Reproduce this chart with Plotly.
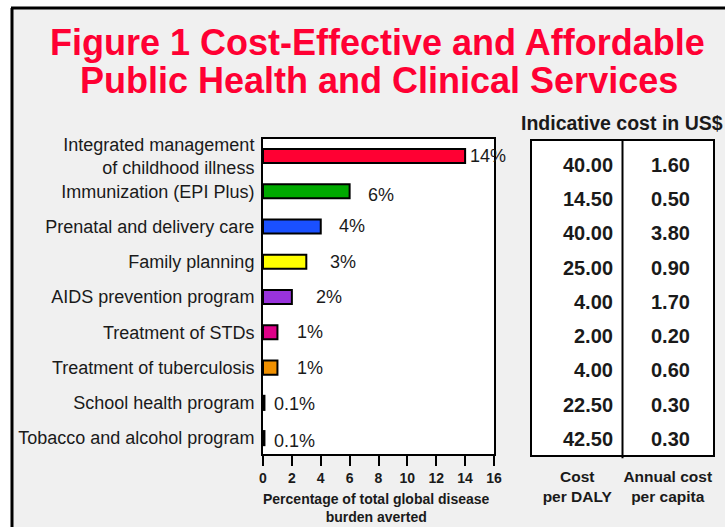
import plotly.graph_objects as go

W, H = 725, 527

# ---------------- data ----------------
programs = [
    "Integrated management<br>of childhood illness",
    "Immunization (EPI Plus)",
    "Prenatal and delivery care",
    "Family planning",
    "AIDS prevention program",
    "Treatment of STDs",
    "Treatment of tuberculosis",
    "School health program",
    "Tobacco and alcohol program",
]
burden_pct = [14, 6, 4, 3, 2, 1, 1, 0.1, 0.1]
burden_labels = ["14%", "6%", "4%", "3%", "2%", "1%", "1%", "0.1%", "0.1%"]
cost_per_daly = [40.00, 14.50, 40.00, 25.00, 4.00, 2.00, 4.00, 22.50, 42.50]
annual_cost_per_capita = [1.60, 0.50, 3.80, 0.90, 1.70, 0.20, 0.60, 0.30, 0.30]
table_columns = ["Cost<br>per DALY", "Annual cost<br>per capita"]
x_ticks = [0, 2, 4, 6, 8, 10, 12, 14, 16]
x_title = "Percentage of total global disease<br>burden averted"

# ---------------- styles ----------------
bar_colors = ["#ff0033", "#00aa00", "#1a50ff", "#ffff00", "#9933dd",
              "#dd0088", "#f09000", "#ffffff", "#ffffff"]
label_xshift = [3, 16, 16, 22, 22, 18, 18, 8, 8]
label_yshift = [0, -4, 0, 0, 0, 0, 0, -1, -3]
FONT = "Liberation Sans, Arial, sans-serif"
TXT = "#1a1a1a"


def px(x):
    return x / W


def py(y):
    return 1 - y / H


fig = go.Figure()

fig.add_trace(go.Bar(
    x=burden_pct, y=programs, orientation="h", width=0.4,
    marker=dict(color=bar_colors, line=dict(color="black", width=2)),
    xaxis="x", yaxis="y", showlegend=False, hoverinfo="skip",
))

# invisible trace to set up table axes
fig.add_trace(go.Scatter(
    x=[table_columns[0]] * len(programs) + [table_columns[1]] * len(programs),
    y=programs + programs, mode="markers", marker=dict(opacity=0),
    xaxis="x2", yaxis="y2", showlegend=False, hoverinfo="skip",
))

annotations = []
for i, (v, t) in enumerate(zip(burden_pct, burden_labels)):
    annotations.append(dict(
        x=v, y=i, xref="x", yref="y", text=t, showarrow=False,
        xanchor="left", yanchor="middle", xshift=label_xshift[i],
        yshift=label_yshift[i], font=dict(family=FONT, size=18, color=TXT)))

for i, (c1, c2) in enumerate(zip(cost_per_daly, annual_cost_per_capita)):
    annotations.append(dict(
        x=0, y=i, xref="x2", yref="y2", text=f"{c1:.2f}", showarrow=False,
        xanchor="right", yanchor="middle", xshift=38,
        font=dict(family=FONT, size=20, color=TXT, weight="bold")))
    annotations.append(dict(
        x=1, y=i, xref="x2", yref="y2", text=f"{c2:.2f}", showarrow=False,
        xanchor="center", yanchor="middle", xshift=3,
        font=dict(family=FONT, size=20, color=TXT, weight="bold")))

# titles
annotations.append(dict(
    x=px(377), y=py(43), xref="paper", yref="paper",
    text="Figure 1 Cost-Effective and Affordable", showarrow=False,
    xanchor="center", yanchor="middle",
    font=dict(family=FONT, size=36, color="#ff0033", weight="bold")))
annotations.append(dict(
    x=px(379), y=py(80), xref="paper", yref="paper",
    text="Public Health and Clinical Services", showarrow=False,
    xanchor="center", yanchor="middle",
    font=dict(family=FONT, size=36, color="#ff0033", weight="bold")))
annotations.append(dict(
    x=px(519), y=py(123), xref="paper", yref="paper",
    text="Indicative cost in US$", showarrow=False,
    xanchor="left", yanchor="middle",
    font=dict(family=FONT, size=19.5, color=TXT, weight="bold")))
# x axis title (placed below tick labels)
annotations.append(dict(
    x=px(376), y=0, xref="paper", yref="paper",
    text=x_title, showarrow=False, xanchor="center", yanchor="bottom",
    font=dict(family=FONT, size=14, color=TXT, weight="bold")))

shapes = [
    # white margin outside the outer frame
    dict(type="rect", xref="paper", yref="paper", x0=0, x1=px(11), y0=-0.1, y1=1.1,
         fillcolor="white", line=dict(width=0), layer="above"),
    dict(type="rect", xref="paper", yref="paper", x0=-0.1, x1=1.1, y0=py(7), y1=1.1,
         fillcolor="white", line=dict(width=0), layer="above"),
    # outer frame
    dict(type="line", xref="paper", yref="paper", x0=px(12), x1=px(12), y0=-0.1, y1=py(8),
         line=dict(color="black", width=3), layer="above"),
    dict(type="line", xref="paper", yref="paper", x0=px(11), x1=1.1, y0=py(8), y1=py(8),
         line=dict(color="black", width=3), layer="above"),
    # table divider
    dict(type="line", xref="x2", yref="y2 domain", x0=0.5, x1=0.5, y0=-0.01, y1=1,
         line=dict(color="black", width=2)),
]

fig.update_layout(
    width=W, height=H,
    margin=dict(l=0, r=0, t=0, b=0, autoexpand=False),
    paper_bgcolor="#f0f0f0", plot_bgcolor="white",
    font=dict(family=FONT, color=TXT),
    annotations=annotations, shapes=shapes,
    xaxis=dict(
        domain=[px(263), px(494)], range=[0, 16], tickvals=x_ticks,
        showline=True, linecolor="black", linewidth=2, mirror=True,
        ticks="outside", ticklen=10, tickwidth=2, tickcolor="black",
        ticklabelstandoff=0, automargin=False,
        showgrid=False, zeroline=False,
        tickfont=dict(family=FONT, size=14, color=TXT, weight="bold"),
        anchor="y", fixedrange=True,
    ),
    yaxis=dict(
        domain=[py(454), py(139)], type="category",
        categoryorder="array", categoryarray=programs,
        range=[8.45, -0.48], automargin=False,
        showline=True, linecolor="black", linewidth=2, mirror=True,
        ticks="", showgrid=False, zeroline=False, ticklabelstandoff=3,
        tickfont=dict(family=FONT, size=18, color=TXT),
        anchor="x", fixedrange=True,
    ),
    xaxis2=dict(
        domain=[px(532), px(713)], type="category",
        categoryorder="array", categoryarray=table_columns,
        range=[-0.5, 1.5], automargin=False,
        showline=True, linecolor="black", linewidth=2, mirror=True,
        ticks="", showgrid=False, zeroline=False, ticklabelstandoff=6,
        tickfont=dict(family=FONT, size=15.5, color=TXT, weight="bold"),
        anchor="y2", fixedrange=True,
    ),
    yaxis2=dict(
        domain=[py(455), py(141)], type="category",
        categoryorder="array", categoryarray=programs,
        range=[8.47, -0.70], automargin=False,
        showline=True, linecolor="black", linewidth=2, mirror=True,
        ticks="", showgrid=False, zeroline=False, showticklabels=False,
        anchor="x2", fixedrange=True,
    ),
)

fig.write_html("out.html", config={"displayModeBar": False})
